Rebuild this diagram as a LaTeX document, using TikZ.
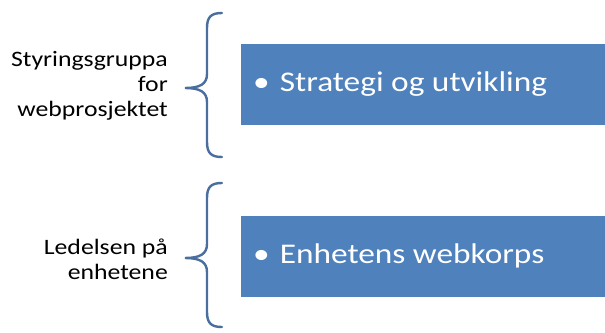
\documentclass[tikz,border=0pt]{standalone}
\usepackage{fontspec}
\setmainfont{Carlito}[FakeStretch=1.17]
\definecolor{boxblue}{HTML}{4F81BD}
\definecolor{braceblue}{HTML}{4A6E9E}
\begin{document}
\begin{tikzpicture}[x=1pt,y=-1pt,
  bluebox/.style={fill=boxblue,draw=none,minimum width=364pt,minimum height=81pt,anchor=north west,inner sep=0pt},
  boxtext/.style={text=white,font=\fontsize{28.5}{32}\selectfont,anchor=west,inner sep=0pt},
  label/.style={align=right,anchor=east,font=\fontsize{22}{25}\selectfont,inner sep=0pt},
  bracepath/.style={draw=braceblue,line width=2.4pt,line cap=round}]
\useasboundingbox (0,0) rectangle (605,332);
\node[bluebox] (b1) at (241,44) {};
\node[bluebox] (b2) at (241,216) {};
\node[boxtext] (t1) at (253,84) {\textbullet\hspace{10pt}Strategi og utvikling};
\node[boxtext] (t2) at (253,256) {\textbullet\hspace{10pt}Enhetens webkorps};
\node[label] (l1) at (168,86) {Styringsgruppa\\for\\webprosjektet};
\node[label] (l2) at (168,259) {Ledelsen på\\enhetene};
\foreach \t/\m/\b in {13/88/157,183/258/327}{
  \draw[bracepath] (222,\t) .. controls (211,\t) and (207,\t+4) .. (207,\t+15)
    -- (207,\m-14) .. controls (207,\m-4) and (200,\m) .. (185,\m)
    .. controls (200,\m) and (207,\m+4) .. (207,\m+14)
    -- (207,\b-15) .. controls (207,\b-4) and (211,\b) .. (222,\b);
}
\end{tikzpicture}
\end{document}
